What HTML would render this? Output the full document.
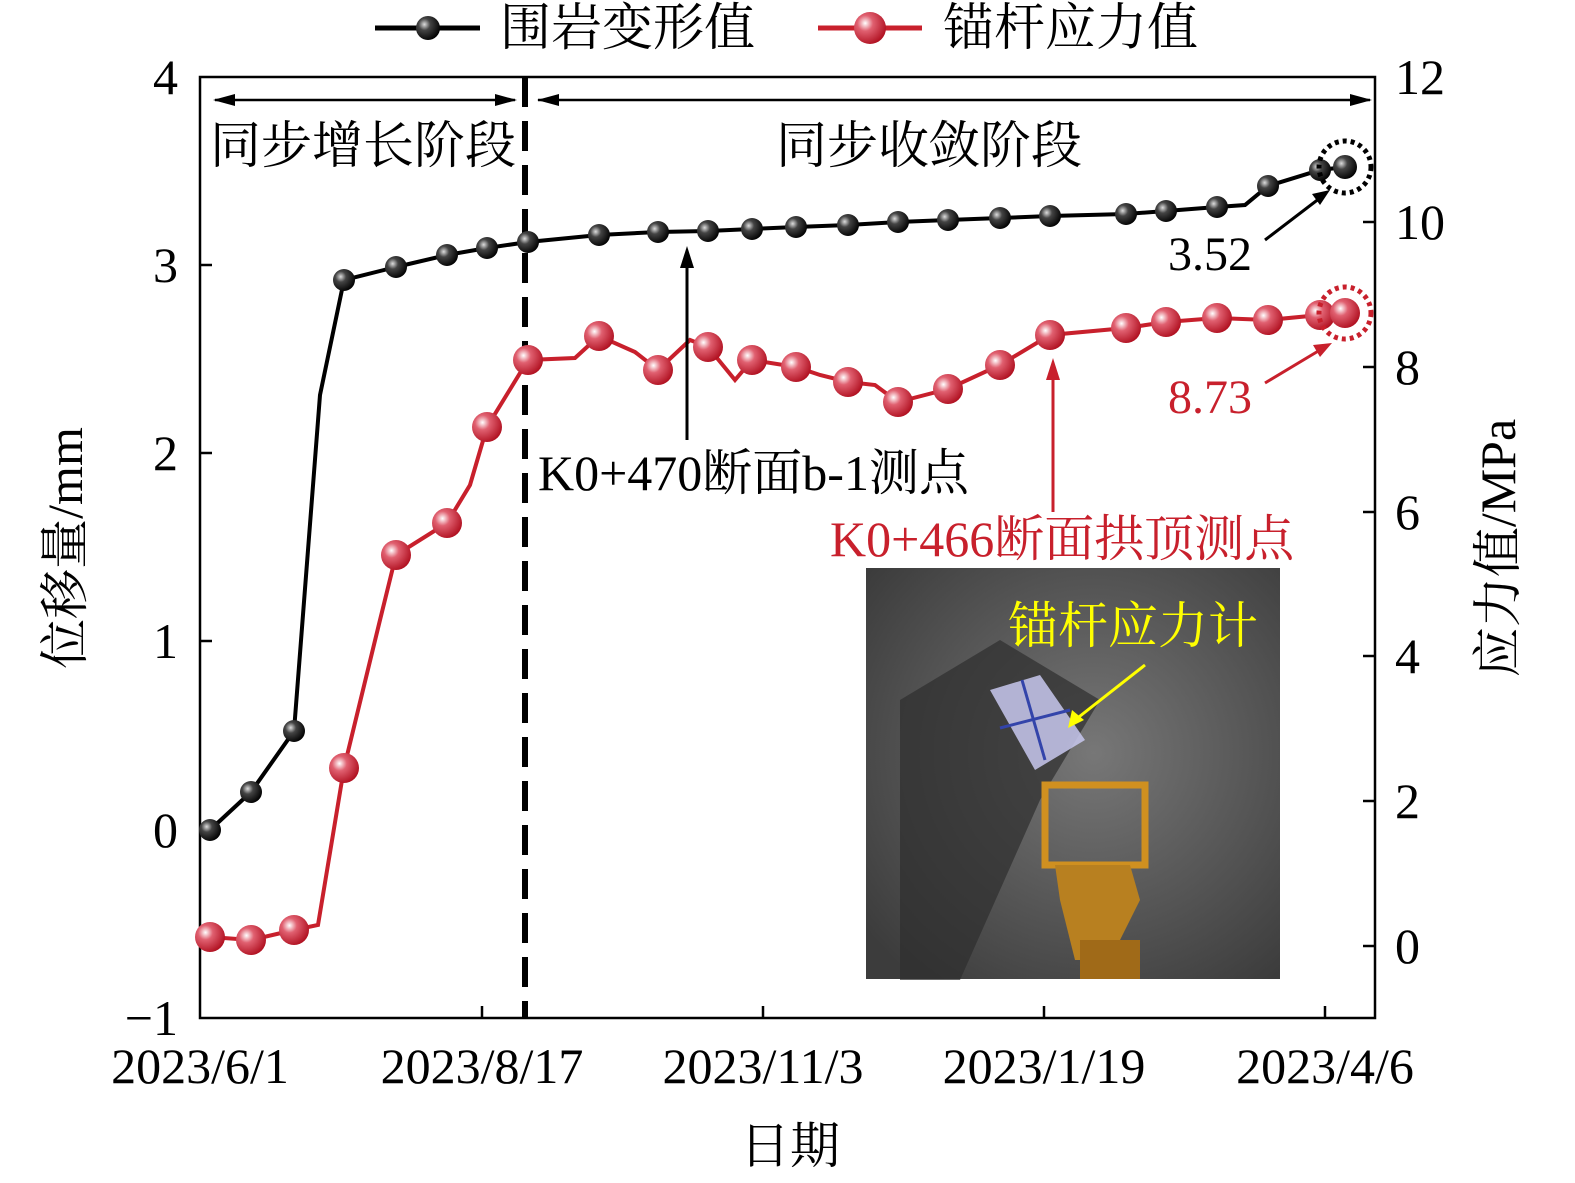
<!DOCTYPE html><html><head><meta charset="utf-8"><style>body{margin:0;background:#fff;overflow:hidden}svg{display:block}text{font-family:"Liberation Serif","Noto Serif CJK SC",serif}</style></head><body>
<svg width="1575" height="1183" viewBox="0 0 1575 1183" xmlns="http://www.w3.org/2000/svg">
<defs>
<radialGradient id="gk" cx="0.35" cy="0.35" r="0.7"><stop offset="0" stop-color="#ddd"/><stop offset="0.35" stop-color="#444"/><stop offset="1" stop-color="#000"/></radialGradient>
<radialGradient id="gr" cx="0.35" cy="0.35" r="0.7"><stop offset="0" stop-color="#fff"/><stop offset="0.35" stop-color="#e06070"/><stop offset="1" stop-color="#b01020"/></radialGradient>
<radialGradient id="ph" cx="0.55" cy="0.45" r="0.7"><stop offset="0" stop-color="#777"/><stop offset="1" stop-color="#3c3c3c"/></radialGradient>
</defs>
<rect x="866" y="568" width="414" height="411" fill="url(#ph)"/>
<path d="M900 700 L1000 640 L1100 700 L1040 800 L960 980 L900 980 Z" fill="#2e2e2e" opacity="0.7"/>
<polygon points="990,690 1040,675 1085,740 1035,770" fill="#c8c8ee" opacity="0.85"/>
<line x1="1000" y1="728" x2="1070" y2="710" stroke="#3344aa" stroke-width="3"/>
<line x1="1022" y1="680" x2="1045" y2="760" stroke="#3344aa" stroke-width="3"/>
<rect x="1045" y="785" width="100" height="80" fill="none" stroke="#d09020" stroke-width="7"/>
<polygon points="1055,865 1130,865 1140,900 1110,960 1075,960 1060,900" fill="#b88020"/>
<rect x="1080" y="940" width="60" height="39" fill="#a06a18"/>
<text x="1008" y="643" font-size="50" fill="#ffff00">锚杆应力计</text>
<line x1="1145" y1="665" x2="1075" y2="720" stroke="#ffff00" stroke-width="3"/>
<polygon points="1068,728 1072,710 1084,720" fill="#ffff00"/>
<rect x="200" y="77" width="1175" height="941" fill="none" stroke="#000" stroke-width="2.5"/>
<g stroke="#000" stroke-width="2.5">
<line x1="200" y1="265" x2="212" y2="265"/><line x1="200" y1="453" x2="212" y2="453"/><line x1="200" y1="641" x2="212" y2="641"/><line x1="200" y1="830" x2="212" y2="830"/>
<line x1="1375" y1="222" x2="1363" y2="222"/><line x1="1375" y1="367" x2="1363" y2="367"/><line x1="1375" y1="512" x2="1363" y2="512"/><line x1="1375" y1="656" x2="1363" y2="656"/><line x1="1375" y1="801" x2="1363" y2="801"/><line x1="1375" y1="946" x2="1363" y2="946"/>
<line x1="482" y1="1018" x2="482" y2="1006"/><line x1="763" y1="1018" x2="763" y2="1006"/><line x1="1044" y1="1018" x2="1044" y2="1006"/><line x1="1325" y1="1018" x2="1325" y2="1006"/>
</g>
<g font-size="50" text-anchor="end">
<text x="178" y="94">4</text><text x="178" y="282">3</text><text x="178" y="470">2</text><text x="178" y="658">1</text><text x="178" y="847">0</text><text x="178" y="1035">−1</text>
</g>
<g font-size="50">
<text x="1395" y="94">12</text><text x="1395" y="239">10</text><text x="1395" y="384">8</text><text x="1395" y="529">6</text><text x="1395" y="673">4</text><text x="1395" y="818">2</text><text x="1395" y="963">0</text>
</g>
<g font-size="50" text-anchor="middle">
<text x="200" y="1083">2023/6/1</text><text x="482" y="1083">2023/8/17</text><text x="763" y="1083">2023/11/3</text><text x="1044" y="1083">2023/1/19</text><text x="1325" y="1083">2023/4/6</text>
<text x="790" y="1163">日期</text>
</g>
<text transform="translate(82,548) rotate(-90)" font-size="50" text-anchor="middle">位移量/mm</text>
<text transform="translate(1515,548) rotate(-90)" font-size="50" text-anchor="middle">应力值/MPa</text>
<line x1="525" y1="77" x2="525" y2="1018" stroke="#000" stroke-width="6" stroke-dasharray="30,14"/>
<g stroke="#000" stroke-width="2.5"><line x1="215" y1="100" x2="515" y2="100"/><line x1="538" y1="100" x2="1370" y2="100"/></g>
<g fill="#000"><polygon points="213,100 235,94 235,106"/><polygon points="517,100 495,94 495,106"/><polygon points="537,100 559,94 559,106"/><polygon points="1372,100 1350,94 1350,106"/></g>
<text x="210" y="163" font-size="51">同步增长阶段</text>
<text x="776" y="163" font-size="51">同步收敛阶段</text>
<polyline fill="none" stroke="#000" stroke-width="4" points="210,830 251,792 294,731 320,395 344,280 396,267 447,255 487,248 528,242 599,235 658,232 708,231 752,229 796,227 848,225 898,222 948,220 1000,218 1050,216 1126,214 1166,211 1217,207 1245,205 1268,186 1320,170 1345,167"/>
<polyline fill="none" stroke="#c8202c" stroke-width="4" points="210,937 251,940 294,930 318,925 344,768 380,620 396,555 447,523 470,485 487,427 528,360 575,358 599,336 635,352 658,370 690,340 708,347 735,380 752,360 796,367 820,375 848,382 875,385 898,402 948,389 1000,365 1050,335 1126,328 1166,322 1217,318 1268,320 1320,315 1345,313"/>
<g fill="url(#gk)">
<circle cx="210" cy="830" r="11"/><circle cx="251" cy="792" r="11"/><circle cx="294" cy="731" r="11"/><circle cx="344" cy="280" r="11"/><circle cx="396" cy="267" r="11"/><circle cx="447" cy="255" r="11"/><circle cx="487" cy="248" r="11"/><circle cx="528" cy="242" r="11"/><circle cx="599" cy="235" r="11"/><circle cx="658" cy="232" r="11"/><circle cx="708" cy="231" r="11"/><circle cx="752" cy="229" r="11"/><circle cx="796" cy="227" r="11"/><circle cx="848" cy="225" r="11"/><circle cx="898" cy="222" r="11"/><circle cx="948" cy="220" r="11"/><circle cx="1000" cy="218" r="11"/><circle cx="1050" cy="216" r="11"/><circle cx="1126" cy="214" r="11"/><circle cx="1166" cy="211" r="11"/><circle cx="1217" cy="207" r="11"/><circle cx="1268" cy="186" r="11"/><circle cx="1320" cy="170" r="11"/><circle cx="1345" cy="167" r="12"/>
</g>
<g fill="url(#gr)">
<circle cx="210" cy="937" r="15"/><circle cx="251" cy="940" r="15"/><circle cx="294" cy="930" r="15"/><circle cx="344" cy="768" r="15"/><circle cx="396" cy="555" r="15"/><circle cx="447" cy="523" r="15"/><circle cx="487" cy="427" r="15"/><circle cx="528" cy="360" r="15"/><circle cx="599" cy="336" r="15"/><circle cx="658" cy="370" r="15"/><circle cx="708" cy="347" r="15"/><circle cx="752" cy="360" r="15"/><circle cx="796" cy="367" r="15"/><circle cx="848" cy="382" r="15"/><circle cx="898" cy="402" r="15"/><circle cx="948" cy="389" r="15"/><circle cx="1000" cy="365" r="15"/><circle cx="1050" cy="335" r="15"/><circle cx="1126" cy="328" r="15"/><circle cx="1166" cy="322" r="15"/><circle cx="1217" cy="318" r="15"/><circle cx="1268" cy="320" r="15"/><circle cx="1320" cy="315" r="15"/><circle cx="1345" cy="313" r="15"/>
</g>
<circle cx="1345" cy="167" r="26" fill="none" stroke="#000" stroke-width="5" stroke-dasharray="4,4"/>
<circle cx="1345" cy="313" r="26" fill="none" stroke="#c8202c" stroke-width="5" stroke-dasharray="4,4"/>
<line x1="1265" y1="240" x2="1320" y2="198" stroke="#000" stroke-width="3"/><polygon points="1330,190 1312,194 1320,205"/>
<text x="1168" y="270" font-size="48">3.52</text>
<line x1="1265" y1="383" x2="1320" y2="350" stroke="#c8202c" stroke-width="3"/><polygon points="1332,343 1313,345 1320,357" fill="#c8202c"/>
<text x="1168" y="413" font-size="48" fill="#c8202c">8.73</text>
<line x1="687" y1="440" x2="687" y2="260" stroke="#000" stroke-width="3"/><polygon points="687,246 680,268 694,268"/>
<text x="538" y="490" font-size="50">K0+470断面b-1测点</text>
<line x1="1053" y1="512" x2="1053" y2="372" stroke="#c8202c" stroke-width="3"/><polygon points="1053,358 1046,380 1060,380" fill="#c8202c"/>
<text x="830" y="556" font-size="50" fill="#c8202c">K0+466断面拱顶测点</text>
<line x1="375" y1="28" x2="480" y2="28" stroke="#000" stroke-width="5"/><circle cx="428" cy="28" r="12" fill="url(#gk)"/>
<text x="500" y="45" font-size="51">围岩变形值</text>
<line x1="818" y1="28" x2="922" y2="28" stroke="#c8202c" stroke-width="5"/><circle cx="870" cy="28" r="16" fill="url(#gr)"/>
<text x="943" y="45" font-size="51">锚杆应力值</text>
</svg>
</body></html>
